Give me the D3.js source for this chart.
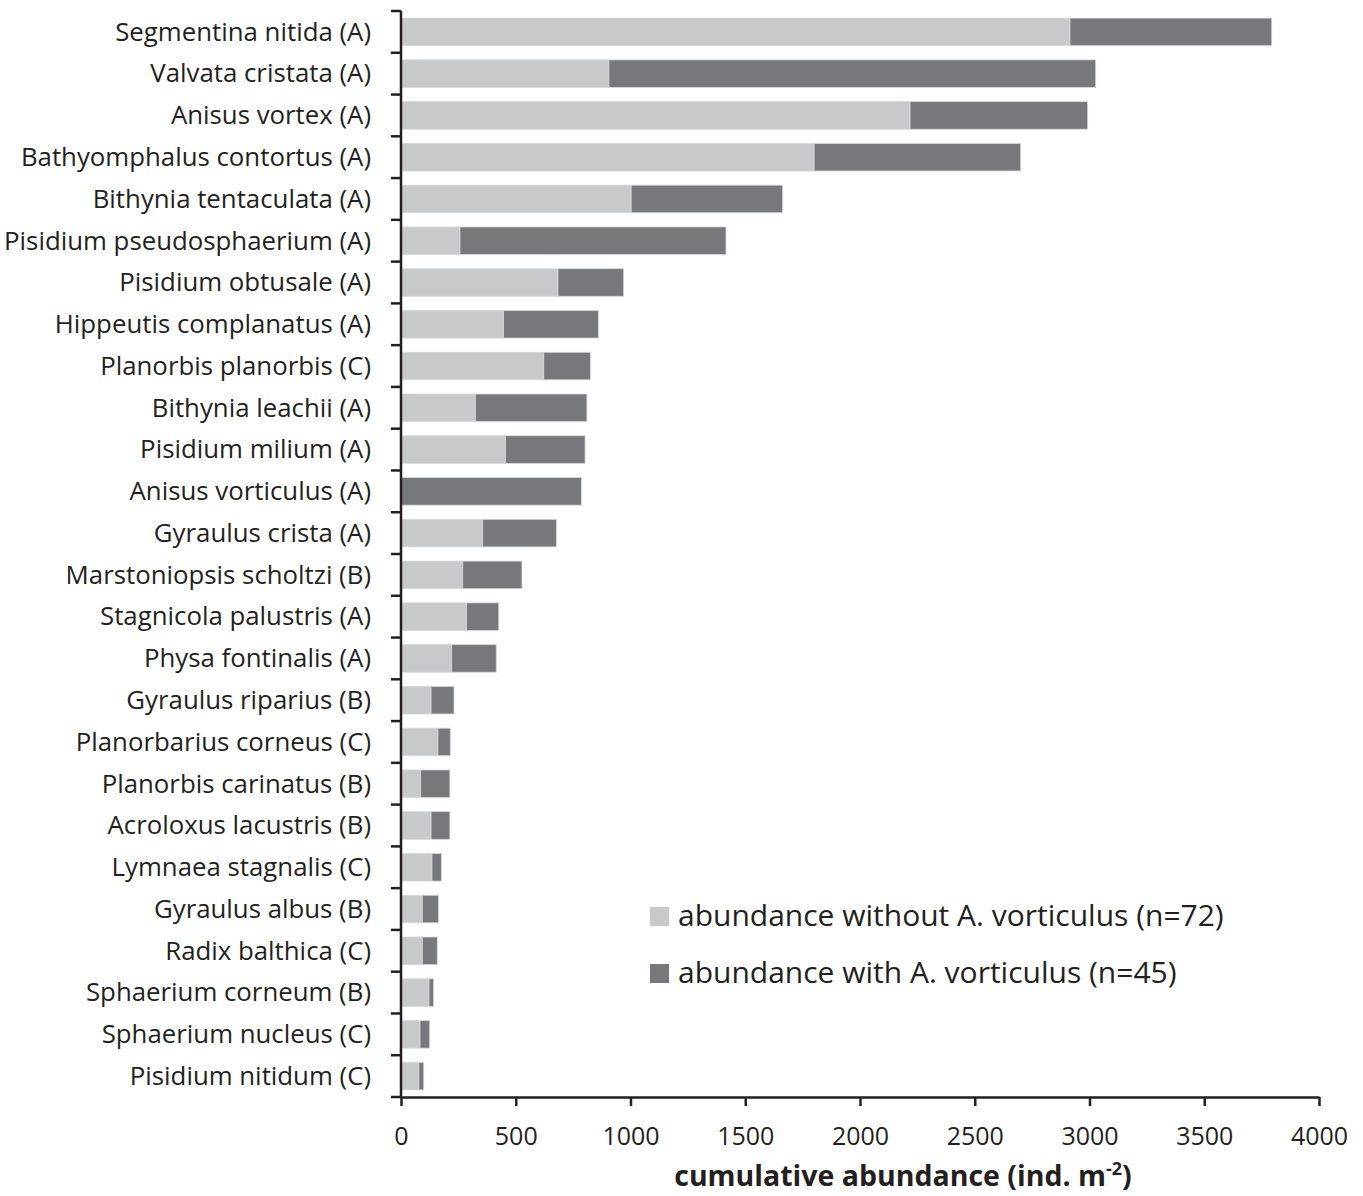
<!DOCTYPE html>
<html>
<head>
<meta charset="utf-8">
<script src="https://cdn.jsdelivr.net/npm/d3@7/dist/d3.min.js"></script>
<style>
  html, body { margin: 0; padding: 0; background: #ffffff; }
  svg { display: block; }
  text { font-family: "Open Sans", "Noto Sans", sans-serif; fill: #231f20; }
</style>
</head>
<body>
<svg id="chart" width="1363" height="1196"></svg>
<script>
// Species (with group letter), top to bottom
const species = [
  "Segmentina nitida (A)", "Valvata cristata (A)", "Anisus vortex (A)",
  "Bathyomphalus contortus (A)", "Bithynia tentaculata (A)",
  "Pisidium pseudosphaerium (A)", "Pisidium obtusale (A)",
  "Hippeutis complanatus (A)", "Planorbis planorbis (C)",
  "Bithynia leachii (A)", "Pisidium milium (A)", "Anisus vorticulus (A)",
  "Gyraulus crista (A)", "Marstoniopsis scholtzi (B)",
  "Stagnicola palustris (A)", "Physa fontinalis (A)",
  "Gyraulus riparius (B)", "Planorbarius corneus (C)",
  "Planorbis carinatus (B)", "Acroloxus lacustris (B)",
  "Lymnaea stagnalis (C)", "Gyraulus albus (B)", "Radix balthica (C)",
  "Sphaerium corneum (B)", "Sphaerium nucleus (C)", "Pisidium nitidum (C)"
];

// Cumulative abundance at sites without A. vorticulus (n=72)
const withoutAV = [
  2915, 906, 2218, 1800, 1003, 257, 684, 447, 622, 324, 455, 0,
  356, 269, 286, 221, 131, 161, 86, 131, 135, 93, 93, 122, 83, 78
];

// Cumulative abundance at sites with A. vorticulus (n=45)
const withAV = [
  879, 2121, 774, 900, 660, 1159, 286, 413, 203, 486, 347, 786,
  321, 258, 140, 194, 100, 54, 127, 82, 41, 71, 65, 20, 42, 21
];

const xTicks = [0, 500, 1000, 1500, 2000, 2500, 3000, 3500, 4000];
const seriesNames = [
  "abundance without A. vorticulus (n=72)",
  "abundance with A. vorticulus (n=45)"
];
const seriesColors = ["#c8c9cb", "#77787c"];

const svg = d3.select("#chart");
const margin = { left: 401, right: 44, top: 11, bottom: 99 };
const W = 1363, H = 1196;

const x = d3.scaleLinear().domain([0, 4000]).range([margin.left, W - margin.right]);
const y = d3.scaleBand().domain(species).range([margin.top, H - margin.bottom])
  .paddingInner(0.34).paddingOuter(0.17);

// Stack the two series
const rows = species.map((s, i) => ({ name: s, without: withoutAV[i], with: withAV[i] }));
const stacked = d3.stack().keys(["without", "with"])(rows);

svg.append("g").selectAll("g")
  .data(stacked)
  .join("g")
    .attr("fill", (d, i) => seriesColors[i])
  .selectAll("rect")
  .data(d => d)
  .join("rect")
    .attr("x", d => x(d[0]))
    .attr("y", d => y(d.data.name))
    .attr("width", d => Math.max(0, x(d[1]) - x(d[0])))
    .attr("height", y.bandwidth())
    .attr("stroke", d => (d[1] - d[0]) > 0 ? "#d6d7d9" : "none")
    .attr("stroke-width", 0.8);

// Y axis: line with ticks at the category boundaries
const yAxis = svg.append("g");
const y0 = margin.top, y1 = H - margin.bottom;
yAxis.append("line")
  .attr("x1", margin.left).attr("x2", margin.left)
  .attr("y1", y0).attr("y2", y1)
  .attr("stroke", "#231f20").attr("stroke-width", 2.5);
const boundaries = d3.range(species.length + 1).map(i => y0 + i * (y1 - y0) / species.length);
yAxis.selectAll("line.tick")
  .data(boundaries)
  .join("line")
    .attr("class", "tick")
    .attr("x1", margin.left - 10).attr("x2", margin.left)
    .attr("y1", d => d).attr("y2", d => d)
    .attr("stroke", "#231f20").attr("stroke-width", 2.5);
yAxis.selectAll("text")
  .data(species)
  .join("text")
    .attr("x", margin.left - 30)
    .attr("y", d => y(d) + y.bandwidth() / 2)
    .attr("dy", "0.34em")
    .attr("text-anchor", "end")
    .attr("font-size", 25.8)
    .text(d => d);

// X axis
const xAxis = svg.append("g").attr("transform", `translate(0,${y1})`)
  .call(d3.axisBottom(x).tickValues(xTicks).tickFormat(d3.format("d"))
    .tickSize(9).tickSizeOuter(0));
xAxis.select(".domain").attr("stroke", "#231f20").attr("stroke-width", 2.5);
xAxis.selectAll(".tick line").attr("stroke", "#231f20").attr("stroke-width", 2.5);
xAxis.selectAll(".tick text")
  .attr("y", 48).attr("dy", 0)
  .attr("font-size", 25)
  .attr("font-family", "\"Open Sans\", sans-serif")
  .attr("fill", "#231f20");

// Axis title with superscript
const title = svg.append("text")
  .attr("x", 903).attr("y", 1186)
  .attr("text-anchor", "middle")
  .attr("font-size", 28.5)
  .attr("font-weight", "bold");
title.append("tspan").text("cumulative abundance (ind. m");
title.append("tspan").attr("dy", -11).attr("font-size", 18).text("-2");
title.append("tspan").attr("dy", 11).text(")");

// Legend
const legend = svg.append("g").attr("transform", "translate(650,907)");
const li = legend.selectAll("g")
  .data(seriesNames)
  .join("g")
    .attr("transform", (d, i) => `translate(0,${i * 57})`);
li.append("rect")
  .attr("width", 19).attr("height", 19)
  .attr("fill", (d, i) => seriesColors[i]);
li.append("text")
  .attr("x", 28).attr("y", 19)
  .attr("font-size", 30)
  .text(d => d);
</script>
</body>
</html>
